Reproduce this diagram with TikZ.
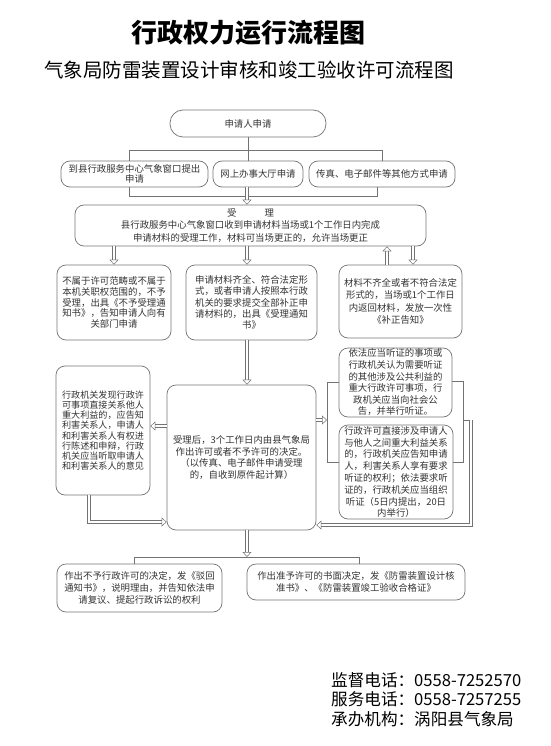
\documentclass[tikz,border=0pt]{standalone}
\usepackage{fontspec}
\newfontfamily\cjk{Noto Sans CJK SC}
\usetikzlibrary{arrows.meta}
\begin{document}
\begin{tikzpicture}[x=1pt,y=-1pt,
 box/.style={draw=black!55, rounded corners=9pt, line width=0.7pt, inner sep=0pt, align=center,
   font=\cjk\fontsize{9.4}{11.5}\selectfont, text=black!80},
 ln/.style={draw=black!55, line width=0.7pt},
 harrow/.style={draw=black!55, line width=0.5pt, double=white, double distance=2.6pt,
   -{Triangle[open, length=5pt, width=9pt]}}]
\useasboundingbox (0,0) rectangle (550,746);

\node[font=\cjk\bfseries\fontsize{26}{26}\selectfont] (title) at (248,33) {行政权力运行流程图};
\node[font=\cjk\fontsize{19.5}{20}\selectfont] (sub) at (249,70) {气象局防雷装置设计审核和竣工验收许可流程图};

\node[box, minimum width=156pt, minimum height=27pt, rounded corners=13pt] (app) at (248,123.5) {申请人申请};
\node[box, minimum width=147pt, minimum height=26pt, font=\cjk\fontsize{9.4}{10}\selectfont] (b1) at (134.5,174) {到县行政服务中心气象窗口提出\\申请};
\node[box, minimum width=90pt, minimum height=26pt] (b2) at (258,174) {网上办事大厅申请};
\node[box, minimum width=146pt, minimum height=26pt] (b3) at (382,174) {传真、电子邮件等其他方式申请};

\node[box, minimum width=351pt, minimum height=41pt, font=\cjk\fontsize{9.4}{12.5}\selectfont] (acc) at (250.5,225.5)
 {受\qquad\quad 理\\县行政服务中心气象窗口收到申请材料当场或1个工作日内完成\\申请材料的受理工作，材料可当场更正的，允许当场更正};

\node[box, minimum width=114pt, minimum height=75pt, font=\cjk\fontsize{9.4}{10.9}\selectfont] (L) at (114,302.5)
 {不属于许可范畴或不属于\\本机关职权范围的，不予\\受理，出具《不予受理通\\知书》，告知申请人向有\\关部门申请};
\node[box, minimum width=131pt, minimum height=75pt, font=\cjk\fontsize{9.4}{11.2}\selectfont] (M) at (251.5,302.5)
 {申请材料齐全、符合法定形\\式，或者申请人按照本行政\\机关的要求提交全部补正申\\请材料的，出具《受理通知\\书》};
\node[box, minimum width=123pt, minimum height=73pt, font=\cjk\fontsize{9.4}{12.2}\selectfont] (R) at (400.5,301.5)
 {材料不齐全或者不符合法定\\形式的，当场或1个工作日\\内返回材料，发放一次性\\《补正告知》};

\node[box, minimum width=94pt, minimum height=129pt, font=\cjk\fontsize{9.1}{10.2}\selectfont] (LL) at (103,430.5)
 {行政机关发现行政许\\可事项直接关系他人\\重大利益的，应告知\\利害关系人，申请人\\和利害关系人有权进\\行陈述和申辩，行政\\机关应当听取申请人\\和利害关系人的意见};
\node[box, minimum width=149pt, minimum height=145pt, font=\cjk\fontsize{9.4}{11.7}\selectfont] (C) at (241.5,457.5)
 {受理后，3个工作日内由县气象局\\作出许可或者不予许可的决定。\\（以传真、电子邮件申请受理\\的，自收到原件起计算）};
\node[box, minimum width=113pt, minimum height=69pt, font=\cjk\fontsize{9.4}{11.6}\selectfont] (RU) at (395.5,382.5)
 {依法应当听证的事项或\\行政机关认为需要听证\\的其他涉及公共利益的\\重大行政许可事项，行\\政机关应当向社会公\\告，并举行听证。};
\node[box, minimum width=114pt, minimum height=94pt, font=\cjk\fontsize{9.4}{11.8}\selectfont] (RL) at (396,472)
 {行政许可直接涉及申请人\\与他人之间重大利益关系\\的，行政机关应告知申请\\人，利害关系人享有要求\\听证的权利；依法要求听\\证的，行政机关应当组织\\听证（5日内提出，20日\\内举行）};

\node[box, minimum width=165pt, minimum height=48pt, font=\cjk\fontsize{9.4}{12}\selectfont] (BL) at (139.5,588)
 {作出不予行政许可的决定，发《驳回\\通知书》，说明理由，并告知依法申\\请复议、提起行政诉讼的权利};
\node[box, minimum width=218pt, minimum height=36pt, font=\cjk\fontsize{9.4}{11.5}\selectfont] (BR) at (356,582)
 {作出准予许可的书面决定，发《防雷装置设计核\\准书》、《防雷装置竣工验收合格证》};

\node[anchor=west, align=left, inner sep=0pt, font=\cjk\fontsize{16.6}{19.5}\selectfont] (foot) at (331,699.5)
 {监督电话：0558-7252570\\服务电话：0558-7257255\\承办机构：涡阳县气象局};

% helper coordinates
\coordinate (t1) at (129,150);
\coordinate (t2) at (382,150);
\coordinate (u1) at (129,196);
\coordinate (u2) at (377,196);
\coordinate (xm) at (247,0);
\coordinate (xr1) at (413,0);
\coordinate (xr2) at (387,0);
\coordinate (yl) at (0,426);
\coordinate (xl) at (89,522);
\coordinate (yr) at (327,420);
\coordinate (k1) at (327,382);
\coordinate (k2) at (327,462);
\coordinate (k3) at (463,381);
\coordinate (k4) at (463,462);
\coordinate (r1) at (463,420);
\coordinate (r2) at (471,420);
\coordinate (r3) at (471,525);
\coordinate (d0) at (247,557);
\coordinate (d1) at (134,557);
\coordinate (d2) at (359,557);

% connectors
\draw[ln] (app.south) -- (app.south |- b2.north);
\draw[ln] (t1 |- b1.north) -- (t1) -- (t2) -- (b3.north);
\draw[ln] (u1 |- b1.south) -- (u1) -- (u2) -- (u2 |- b3.south);
\draw[harrow] (b2.south -| xm) -- (acc.north -| xm);

\draw[harrow] (acc.south -| L.north) -- (L.north);
\draw[harrow] (acc.south -| xm) -- (M.north -| xm);
\draw[harrow] (acc.south -| xr1) -- (R.north -| xr1);
\draw[harrow] (R.north -| xr2) -- (acc.south -| xr2);

\draw[harrow] (M.south -| xm) -- (C.north -| xm);
\draw[harrow] (C.west |- yl) -- (LL.east |- yl);
\draw[harrow] (LL.south -| xl) -- (xl) -- (C.west |- xl);
\draw[harrow] (C.east |- yr) -- (yr);
\draw[ln] (RU.west |- k1) -- (k1) -- (k2) -- (RL.west |- k2);
\draw[ln] (RU.east |- k3) -- (k3) -- (k4) -- (RL.east |- k4);
\draw[ln] (r1) -- (r2);
\draw[harrow] (r2) -- (r3) -- (C.east |- r3);

\draw[harrow] (C.south -| xm) -- (d0);
\draw[ln] (BL.north -| d1) -- (d1) -- (d2) -- (BR.north -| d2);
\end{tikzpicture}
\end{document}
